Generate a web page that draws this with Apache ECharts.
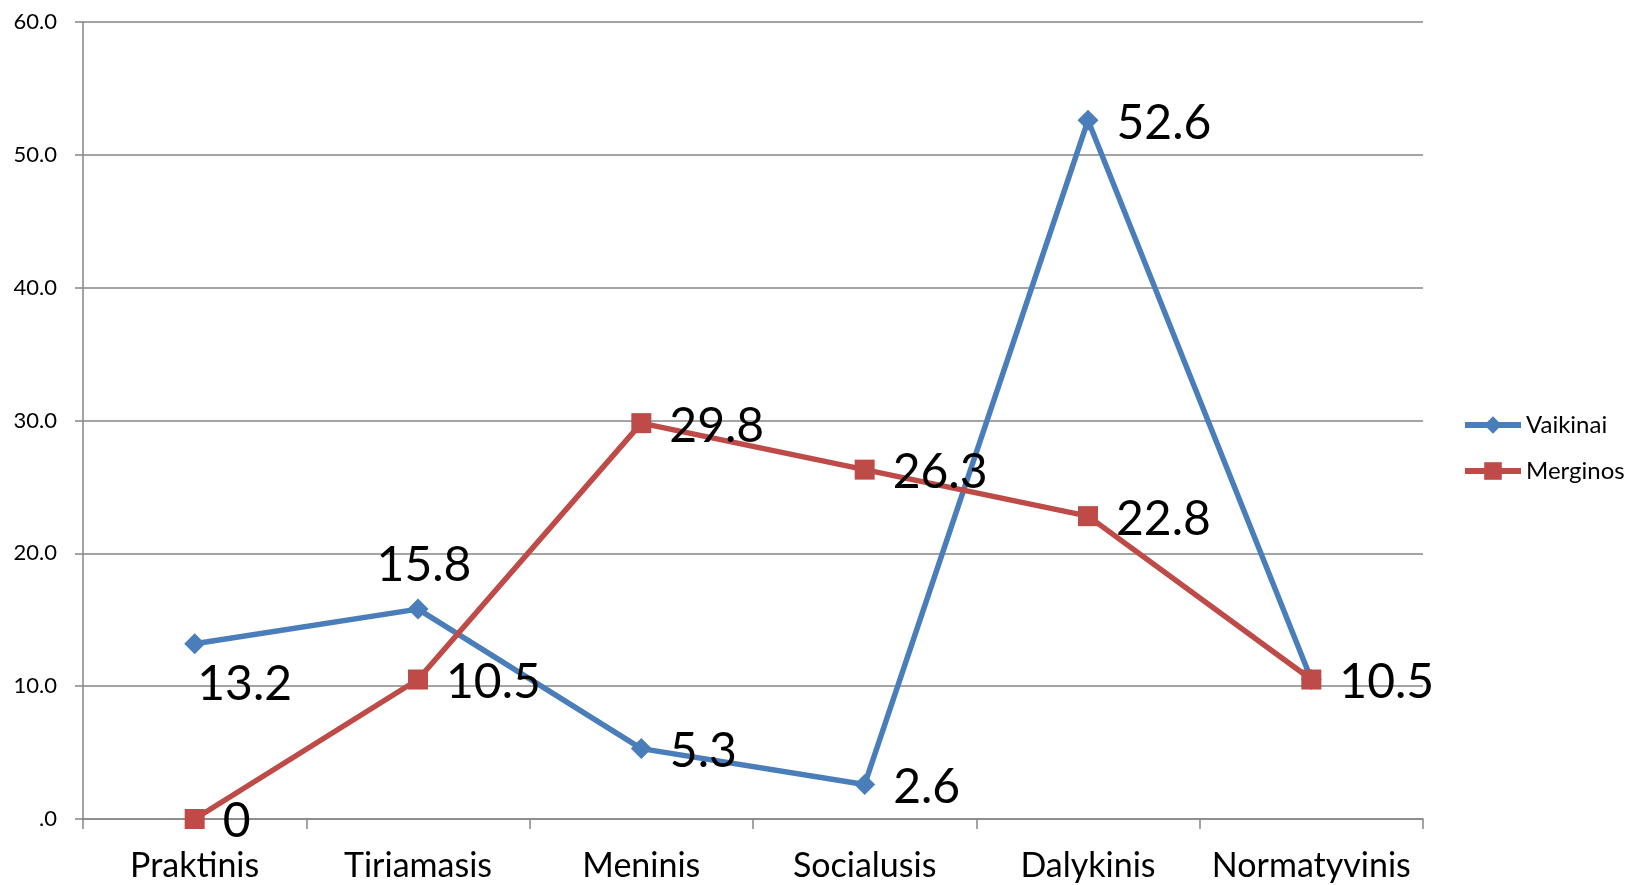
<!DOCTYPE html>
<html><head><meta charset="utf-8">
<script src="https://cdn.jsdelivr.net/npm/echarts@6/dist/echarts.min.js"></script>
<style>html,body{margin:0;padding:0;background:#fff}#c{width:1626px;height:885px}</style>
</head><body><div id="c"></div>
<script>
const categories = ['Praktinis','Tiriamasis','Meninis','Socialusis','Dalykinis','Normatyvinis'];
const vaikinai = [13.2, 15.8, 5.3, 2.6, 52.6, 10.5];
const merginos = [0, 10.5, 29.8, 26.3, 22.8, 10.5];
const seriesNames = ['Vaikinai','Merginos'];
const yTicks = [0, 10, 20, 30, 40, 50, 60];

const FONT = 'Lato';
const labelStyle = {show:true, position:'right', distance:18, offset:[0,3], fontSize:48, color:'#000', fontFamily:FONT};
const vLabelCfg = [
  {position:'bottom', distance:6, offset:[50,0]},
  {position:'top', distance:9, offset:[6,0]},
  {position:'right', distance:18, offset:[0,3]},
  {position:'right', distance:18, offset:[0,3]},
  {position:'right', distance:18, offset:[0,3]},
  {show:false}
];

const chart = echarts.init(document.getElementById('c'));
chart.setOption({
  animation:false,
  textStyle:{fontFamily:FONT},
  grid:{left:83, right:203, top:22, bottom:66, containLabel:false},
  legend:{
    orient:'vertical', left:1462, top:413, padding:0, itemGap:22, itemWidth:56, itemHeight:22,
    lineStyle:{width:6},
    textStyle:{fontSize:24, color:'#000', fontFamily:FONT},
    data:seriesNames
  },
  xAxis:{
    type:'category', data:categories, boundaryGap:true,
    axisLine:{lineStyle:{color:'#868686', width:1.5}},
    axisTick:{show:true, interval:0, length:10, lineStyle:{color:'#868686', width:1.5}},
    axisLabel:{fontSize:34, color:'#000', margin:30, interval:0, fontFamily:FONT}
  },
  yAxis:{
    type:'value', min:yTicks[0], max:yTicks[yTicks.length-1], interval:10,
    axisLine:{show:true, lineStyle:{color:'#868686', width:1.5}},
    axisTick:{show:true, length:8, lineStyle:{color:'#868686', width:1.5}},
    splitLine:{lineStyle:{color:'#868686', width:1.5}},
    axisLabel:{fontSize:22, color:'#000', margin:26, fontFamily:FONT,
      formatter: v => v === 0 ? '.0' : v.toFixed(1)}
  },
  series:[
    {
      name:seriesNames[0], type:'line',
      data:vaikinai.map((v,i)=>({value:v, label:vLabelCfg[i]})),
      symbol:'diamond', symbolSize:21,
      lineStyle:{color:'#4A7EBB', width:5.5},
      itemStyle:{color:'#4A7EBB'},
      label:labelStyle, z:2
    },
    {
      name:seriesNames[1], type:'line', data:merginos,
      symbol:'rect', symbolSize:20,
      lineStyle:{color:'#BE4B48', width:5.5},
      itemStyle:{color:'#BE4B48'},
      label:labelStyle, z:3
    }
  ]
});
</script></body></html>
